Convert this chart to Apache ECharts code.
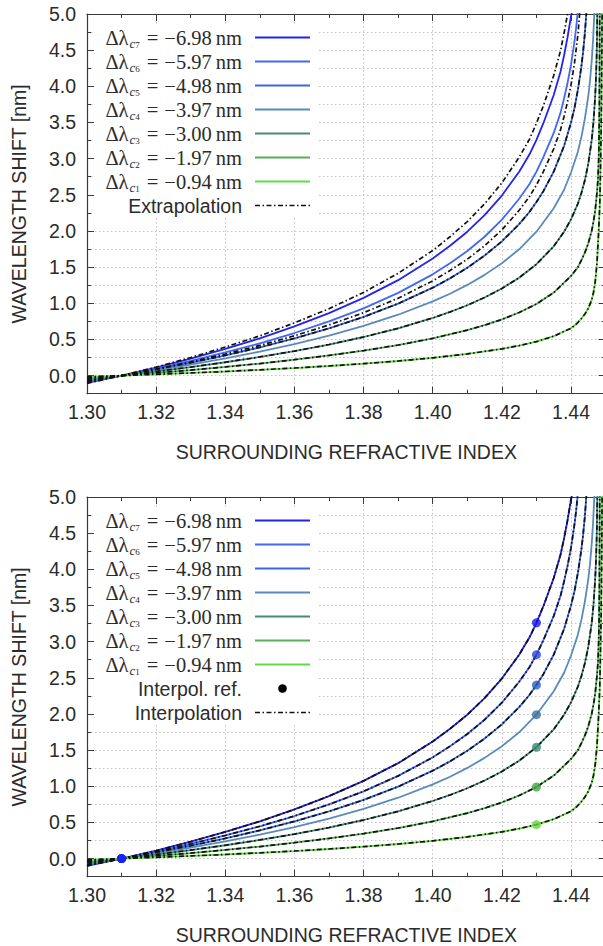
<!DOCTYPE html>
<html>
<head>
<meta charset="utf-8">
<script src="https://cdn.jsdelivr.net/npm/echarts@6/dist/echarts.min.js"></script>
<style>
  html, body { margin: 0; padding: 0; background: #fff; }
  #chart { width: 603px; height: 946px; }
</style>
</head>
<body>
<div id="chart"></div>
<script>
// Resonance wavelength shift vs. surrounding refractive index, seven curves (c7 ... c1)
const curveIds = ['7', '6', '5', '4', '3', '2', '1'];
const shiftLabels = ['−6.98', '−5.97', '−4.98', '−3.97', '−3.00', '−1.97', '−0.94'];
const curveColors = ['#2323ee', '#4466f6', '#3a68dc', '#5a8abd', '#468a78', '#58ad58', '#66da44'];
const dotColors = ['#1717ff', '#2a42e2', '#2c5cc4', '#3a6f9f', '#3a8a72', '#46a246', '#62d83a'];

const curveC7 = [[1.30,-0.10],[1.31,0],[1.32,0.11],[1.33,0.235],[1.34,0.37],[1.35,0.515],[1.36,0.68],[1.37,0.865],[1.38,1.075],[1.39,1.32],[1.40,1.62],[1.405,1.795],[1.41,1.99],[1.415,2.22],[1.42,2.49],[1.425,2.82],[1.428,3.06],[1.43,3.26],[1.432,3.49],[1.435,3.88],[1.437,4.21],[1.438,4.43],[1.439,4.68],[1.44,4.97],[1.4405,5.06]];
const curveC6 = [[1.30,-0.087],[1.31,0],[1.32,0.095],[1.33,0.204],[1.34,0.32],[1.35,0.447],[1.36,0.589],[1.37,0.749],[1.38,0.93],[1.39,1.144],[1.40,1.40],[1.405,1.553],[1.41,1.723],[1.415,1.92],[1.42,2.156],[1.425,2.445],[1.428,2.65],[1.43,2.82],[1.432,3.02],[1.435,3.355],[1.437,3.64],[1.438,3.836],[1.439,4.05],[1.44,4.30],[1.441,4.62],[1.4415,4.82],[1.442,5.06]];
const curveC5 = [[1.30,-0.08],[1.31,0],[1.32,0.086],[1.33,0.178],[1.34,0.279],[1.35,0.391],[1.36,0.514],[1.37,0.653],[1.38,0.811],[1.39,0.995],[1.40,1.216],[1.405,1.345],[1.41,1.491],[1.415,1.66],[1.42,1.856],[1.425,2.095],[1.428,2.265],[1.43,2.40],[1.432,2.55],[1.435,2.821],[1.438,3.177],[1.44,3.50],[1.441,3.70],[1.442,3.955],[1.443,4.277],[1.4435,4.48],[1.444,4.73],[1.4445,5.06]];
const curveC4 = [[1.30,-0.068],[1.31,0],[1.32,0.073],[1.33,0.152],[1.34,0.238],[1.35,0.332],[1.36,0.436],[1.37,0.553],[1.38,0.687],[1.39,0.842],[1.40,1.026],[1.405,1.132],[1.41,1.254],[1.415,1.393],[1.42,1.554],[1.425,1.747],[1.43,1.99],[1.435,2.315],[1.438,2.57],[1.44,2.808],[1.442,3.10],[1.443,3.301],[1.444,3.55],[1.445,3.869],[1.4455,4.08],[1.446,4.362],[1.4464,4.66],[1.4467,4.97],[1.4468,5.06]];
const curveC3 = [[1.30,-0.053],[1.31,0],[1.32,0.057],[1.33,0.118],[1.34,0.185],[1.35,0.258],[1.36,0.339],[1.37,0.43],[1.38,0.534],[1.39,0.654],[1.40,0.797],[1.405,0.88],[1.41,0.973],[1.415,1.08],[1.42,1.205],[1.425,1.354],[1.43,1.54],[1.435,1.788],[1.438,1.99],[1.44,2.161],[1.442,2.38],[1.443,2.526],[1.444,2.70],[1.445,2.932],[1.446,3.264],[1.4465,3.51],[1.447,3.875],[1.4472,4.09],[1.4474,4.396],[1.4475,4.62],[1.4476,5.06]];
const curveC2 = [[1.30,-0.034],[1.31,0],[1.32,0.037],[1.33,0.077],[1.34,0.12],[1.35,0.167],[1.36,0.22],[1.37,0.279],[1.38,0.346],[1.39,0.423],[1.40,0.515],[1.41,0.629],[1.415,0.697],[1.42,0.777],[1.425,0.873],[1.43,0.99],[1.435,1.148],[1.44,1.378],[1.442,1.50],[1.443,1.598],[1.444,1.70],[1.445,1.83],[1.446,2.007],[1.4465,2.13],[1.447,2.287],[1.4475,2.525],[1.4478,2.72],[1.448,3.0],[1.4481,3.25],[1.4482,3.7],[1.44825,4.2],[1.4483,5.06]];
const curveC1 = [[1.30,-0.016],[1.31,0],[1.32,0.018],[1.33,0.037],[1.34,0.057],[1.35,0.08],[1.36,0.105],[1.37,0.133],[1.38,0.165],[1.39,0.202],[1.40,0.246],[1.41,0.30],[1.42,0.37],[1.425,0.415],[1.43,0.47],[1.435,0.545],[1.44,0.655],[1.4417,0.72],[1.443,0.79],[1.444,0.85],[1.445,0.93],[1.446,1.05],[1.4465,1.15],[1.447,1.3],[1.4475,1.55],[1.448,2.0],[1.4483,2.35],[1.4485,2.8],[1.4487,3.35],[1.4488,3.8],[1.4489,4.4],[1.449,5.06]];

// extrapolated curves that do not coincide with a computed one
const extrapOuter = [[1.30,-0.107],[1.31,0],[1.32,0.118],[1.33,0.25],[1.34,0.395],[1.35,0.55],[1.36,0.73],[1.37,0.925],[1.38,1.15],[1.39,1.415],[1.40,1.73],[1.405,1.92],[1.41,2.13],[1.415,2.375],[1.42,2.665],[1.425,3.02],[1.428,3.27],[1.43,3.49],[1.432,3.73],[1.435,4.15],[1.437,4.50],[1.438,4.74],[1.439,5.0],[1.4393,5.08]];
const extrapInner = [[1.30,-0.081],[1.31,0],[1.32,0.089],[1.33,0.191],[1.34,0.299],[1.35,0.418],[1.36,0.551],[1.37,0.70],[1.38,0.87],[1.39,1.07],[1.40,1.31],[1.405,1.453],[1.41,1.61],[1.415,1.795],[1.42,2.016],[1.425,2.286],[1.428,2.475],[1.43,2.637],[1.432,2.82],[1.435,3.137],[1.437,3.405],[1.438,3.587],[1.439,3.79],[1.44,4.02],[1.441,4.32],[1.442,4.72],[1.4426,5.06]];

// interpolation reference points
const refIndex = [1.31, 1.43];
const refShift = [3.26, 2.82, 2.40, 1.99, 1.54, 0.99, 0.47];

const yMajorTicks = [0, 0.5, 1.0, 1.5, 2.0, 2.5, 3.0, 3.5, 4.0, 4.5, 5.0];
const xRange = [1.30, 1.45];
const yRange = [-0.25, 5.0];

const curves = [curveC7, curveC6, curveC5, curveC4, curveC3, curveC2, curveC1];
const extrapCurves = [extrapOuter, extrapInner, curveC5, curveC3, curveC2, curveC1];
const interpCurves = [curveC7, curveC6, curveC5, curveC3, curveC2, curveC1];

const SANS = '"Liberation Sans", Arial, Helvetica, sans-serif';
const SERIF = '"Liberation Serif", "Times New Roman", serif';
const FRAME = '#3a3a3a';
const TXT = '#2b2b2b';
const GRIDC = '#c2c2c2';
const DASHDOT = [5, 2.5, 1.5, 2.5];
const FS = 19.5;

const chart = echarts.init(document.getElementById('chart'), null, { renderer: 'svg' });

const panels = [{ top: 14 }, { top: 497 }];
const PLOT_H = 379.7;
const PLOT_W = 518.6;
const LEFT = 87;

const grids = panels.map(p => ({ left: LEFT, top: p.top, width: PLOT_W, height: PLOT_H, outerBoundsMode: 'none', containLabel: false }));

const xAxes = [];
const yAxes = [];
panels.forEach((p, g) => {
  const base = { gridIndex: g, type: 'value', min: xRange[0], max: xRange[1], splitLine: { show: false }, axisLabel: { show: false } };
  xAxes.push(Object.assign({}, base, {
    position: 'bottom', interval: 0.02,
    axisLine: { show: true, onZero: false, lineStyle: { color: FRAME, width: 1.2 } },
    axisTick: { show: true, inside: true, length: 7, lineStyle: { color: FRAME, width: 1 } },
    axisLabel: { show: true, showMaxLabel: false, margin: 8, color: TXT, fontSize: FS, fontFamily: SANS, formatter: v => v.toFixed(2) },
    splitLine: { show: true, lineStyle: { color: GRIDC, width: 1, type: [1.5, 2.5] } },
    name: 'SURROUNDING REFRACTIVE INDEX', nameLocation: 'middle', nameGap: 48,
    nameTextStyle: { color: TXT, fontSize: FS, fontFamily: SANS }
  }));
  xAxes.push(Object.assign({}, base, {
    position: 'bottom', interval: 0.01,
    axisLine: { show: false, onZero: false },
    axisTick: { show: true, inside: true, length: 4, lineStyle: { color: FRAME, width: 1 } }
  }));
  xAxes.push(Object.assign({}, base, {
    position: 'top', interval: 0.02,
    axisLine: { show: true, onZero: false, lineStyle: { color: FRAME, width: 1.2 } },
    axisTick: { show: true, inside: true, length: 7, lineStyle: { color: FRAME, width: 1 } }
  }));
  xAxes.push(Object.assign({}, base, {
    position: 'top', interval: 0.01,
    axisLine: { show: false, onZero: false },
    axisTick: { show: true, inside: true, length: 4, lineStyle: { color: FRAME, width: 1 } }
  }));

  const ybase = { gridIndex: g, type: 'value', min: yRange[0], max: yRange[1], splitLine: { show: false }, axisLabel: { show: false } };
  yAxes.push(Object.assign({}, ybase, {
    position: 'left', interval: 0.25,
    axisLine: { show: true, onZero: false, lineStyle: { color: FRAME, width: 1.2 } },
    axisTick: { show: true, inside: true, length: 4, lineStyle: { color: FRAME, width: 1 } },
    axisLabel: {
      show: true, margin: 11, color: TXT, fontSize: FS, fontFamily: SANS,
      formatter: v => (Math.abs(v * 2 - Math.round(v * 2)) < 1e-6 && v > -0.01) ? v.toFixed(1) : ''
    },
    splitLine: { show: true, lineStyle: { color: GRIDC, width: 1, type: [1.5, 2.5] } },
    name: 'WAVELENGTH SHIFT [nm]', nameLocation: 'middle', nameGap: 58, nameRotate: 90,
    nameTextStyle: { color: TXT, fontSize: FS, fontFamily: SANS }
  }));
  yAxes.push(Object.assign({}, ybase, {
    position: 'left', interval: 0.25,
    axisLine: { show: false, onZero: false },
    axisTick: { show: true, inside: true, length: 7, customValues: yMajorTicks, lineStyle: { color: FRAME, width: 1 } }
  }));
  yAxes.push(Object.assign({}, ybase, {
    position: 'right', interval: 0.25,
    axisLine: { show: true, onZero: false, lineStyle: { color: FRAME, width: 1.2 } },
    axisTick: { show: true, inside: true, length: 4, lineStyle: { color: FRAME, width: 1 } }
  }));
  yAxes.push(Object.assign({}, ybase, {
    position: 'right', interval: 0.25,
    axisLine: { show: false, onZero: false },
    axisTick: { show: true, inside: true, length: 7, customValues: yMajorTicks, lineStyle: { color: FRAME, width: 1 } }
  }));
});

function lineSeries(g, data, color, dashed) {
  return {
    type: 'line', xAxisIndex: g * 4, yAxisIndex: g * 4, data: data,
    showSymbol: false, symbol: 'none', smooth: false, clip: true,
    lineStyle: dashed ? { color: '#111', width: 1.7, type: DASHDOT } : { color: color, width: 1.8 },
    z: dashed ? 4 : 3, silent: true, animation: false
  };
}

const series = [];
// upper panel: computed curves + extrapolation
curves.forEach((c, i) => series.push(lineSeries(0, c, curveColors[i], false)));
extrapCurves.forEach(c => series.push(lineSeries(0, c, null, true)));
// lower panel: computed curves + interpolation + reference points
curves.forEach((c, i) => series.push(lineSeries(1, c, curveColors[i], false)));
interpCurves.forEach(c => series.push(lineSeries(1, c, null, true)));
for (let i = curves.length - 1; i >= 0; i--) {
  series.push({
    type: 'scatter', xAxisIndex: 4, yAxisIndex: 4,
    data: [[refIndex[0], 0], [refIndex[1], refShift[i]]],
    symbol: 'circle', symbolSize: 9, itemStyle: { color: dotColors[i] }, z: 6, silent: true, animation: false
  });
}

// key boxes
const ROW0 = 23.5, ROWSTEP = 24, TEXT_RIGHT = 242, SAMPLE_X1 = 255, SAMPLE_X2 = 310;
const rich = {
  m: { fontSize: 20.5, fontFamily: SERIF, fill: TXT, lineHeight: 24, verticalAlign: 'middle' },
  s: { fontSize: 13, fontStyle: 'italic', fontFamily: SERIF, fill: TXT, lineHeight: 13, verticalAlign: 'bottom', padding: [0, 0, 0, 1] },
  ss: { fontSize: 9, fontFamily: SERIF, fill: TXT, lineHeight: 2, verticalAlign: 'bottom' },
  eq: { fontSize: 20.5, fontFamily: SERIF, fill: TXT, lineHeight: 24, verticalAlign: 'middle', padding: [0, 6, 0, 7] },
  u: { fontSize: 20.5, fontFamily: SERIF, fill: TXT, lineHeight: 24, verticalAlign: 'middle', padding: [0, 0, 0, 4] }
};
const graphic = [];
function keyBlock(top, lastLabels) {
  const rows = curves.length + lastLabels.length;
  graphic.push({ type: 'rect', z: 100, silent: true,
    shape: { x: 95, y: top + ROW0 - 12.5, width: 224, height: ROWSTEP * (rows - 1) + 25 },
    style: { fill: '#ffffff', stroke: null } });
  curveIds.forEach((id, i) => {
    const y = top + ROW0 + ROWSTEP * i;
    graphic.push({ type: 'text', z: 101, silent: true, style: {
      legacy: false, x: TEXT_RIGHT, y: y, align: 'right', verticalAlign: 'middle',
      text: '{m|Δλ}{s|c}{ss|' + id + '}{eq|=}{m|' + shiftLabels[i] + '}{u|nm}', rich: rich } });
    graphic.push({ type: 'line', z: 101, silent: true,
      shape: { x1: SAMPLE_X1, y1: y, x2: SAMPLE_X2, y2: y },
      style: { stroke: curveColors[i], lineWidth: 2 } });
  });
  lastLabels.forEach((item, k) => {
    const y = top + ROW0 + ROWSTEP * (curves.length + k);
    graphic.push({ type: 'text', z: 101, silent: true, style: {
      legacy: false, x: TEXT_RIGHT, y: y, align: 'right', verticalAlign: 'middle',
      text: item.label, fill: TXT, font: FS + 'px ' + SANS } });
    if (item.kind === 'dot') {
      graphic.push({ type: 'circle', z: 101, silent: true,
        shape: { cx: (SAMPLE_X1 + SAMPLE_X2) / 2, cy: y, r: 4.3 }, style: { fill: '#000' } });
    } else {
      graphic.push({ type: 'line', z: 101, silent: true,
        shape: { x1: SAMPLE_X1, y1: y, x2: SAMPLE_X2, y2: y },
        style: { stroke: '#111', lineWidth: 1.7, lineDash: DASHDOT } });
    }
  });
}
keyBlock(panels[0].top, [{ label: 'Extrapolation', kind: 'line' }]);
keyBlock(panels[1].top, [{ label: 'Interpol. ref.', kind: 'dot' }, { label: 'Interpolation', kind: 'line' }]);

chart.setOption({
  animation: false,
  backgroundColor: '#ffffff',
  grid: grids,
  xAxis: xAxes,
  yAxis: yAxes,
  series: series,
  graphic: graphic
});
</script>
</body>
</html>
